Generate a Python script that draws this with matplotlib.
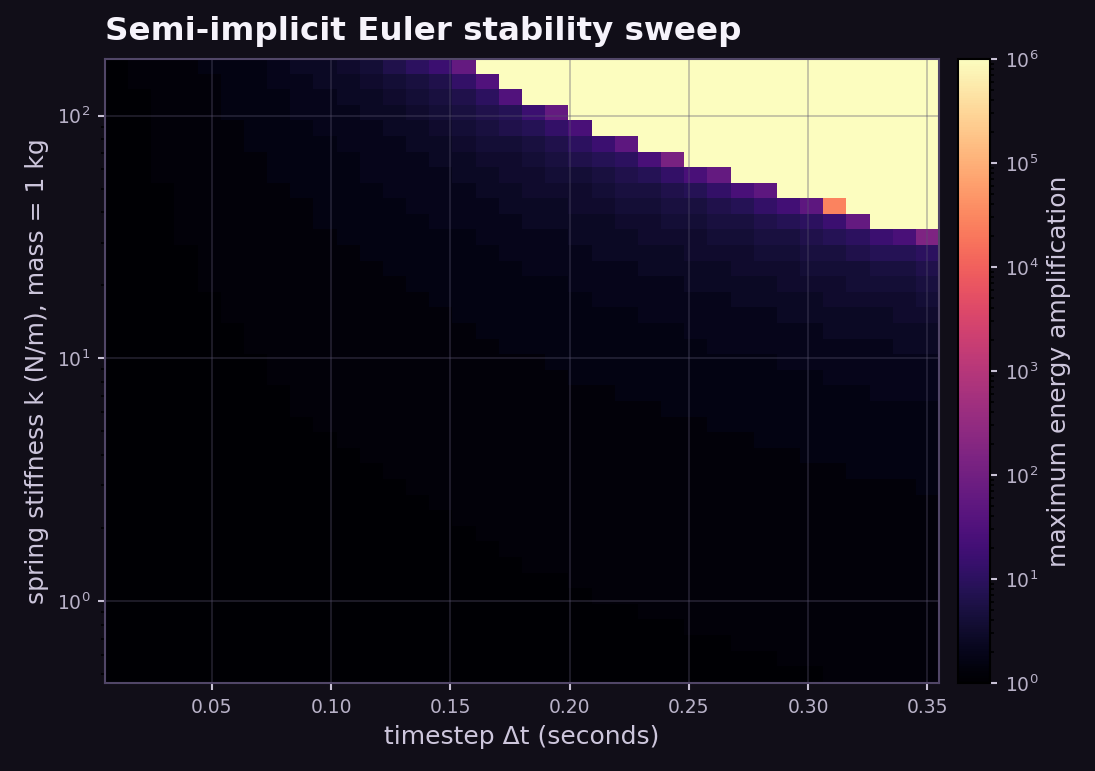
import numpy as np
import matplotlib
matplotlib.use("Agg")
import matplotlib.pyplot as plt
from matplotlib.colors import LogNorm

# timestep values (columns) and spring stiffness values (rows)
dt = [0.0100, 0.0197, 0.0294, 0.0391, 0.0489, 0.0586, 0.0683, 0.0780, 0.0877,
      0.0974, 0.1071, 0.1169, 0.1266, 0.1363, 0.1460, 0.1557, 0.1654, 0.1751,
      0.1849, 0.1946, 0.2043, 0.2140, 0.2237, 0.2334, 0.2431, 0.2529, 0.2626,
      0.2723, 0.2820, 0.2917, 0.3014, 0.3111, 0.3209, 0.3306, 0.3403, 0.3500]
k = [0.500, 0.580, 0.672, 0.779, 0.903, 1.047, 1.214, 1.408, 1.632, 1.893,
     2.194, 2.544, 2.950, 3.420, 3.965, 4.597, 5.331, 6.180, 7.166, 8.309,
     9.632, 11.17, 12.95, 15.01, 17.40, 20.18, 23.39, 27.13, 31.45, 36.47,
     42.28, 49.02, 56.83, 65.90, 76.38, 88.57, 102.7, 119.1, 138.0, 160.0]

# amplification, one string per k row (top row first)
# char = log10(amplification)*10 in base 36, '*' ~ 10^4.45, '#' = clipped at 1e6
rows_top_down = [
    "011122" "234456" "8aci##" "######" "######" "######",
    "011112" "233445" "678bf#" "######" "######" "######",
    "001112" "223344" "5678af" "######" "######" "######",
    "001112" "223334" "456789" "ci####" "######" "######",
    "001111" "222333" "445678" "9be###" "######" "######",
    "001111" "222233" "344566" "78ach#" "######" "######",
    "001111" "122223" "334455" "6789ae" "l#####" "######",
    "001111" "122223" "333445" "566789" "bei###" "######",
    "000111" "112222" "333344" "555677" "89beh#" "######",
    "000111" "111222" "233334" "445566" "7789bd" "h*####",
    "000111" "111222" "223333" "444455" "667789" "aci###",
    "000111" "111122" "222233" "334445" "556677" "89acem",
    "000011" "111112" "222223" "333444" "455566" "77899a",
    "000011" "111111" "222222" "333334" "444555" "666778",
    "000011" "111111" "122222" "223333" "344445" "556667",
    "000001" "111111" "112222" "222333" "333444" "455556",
    "000001" "111111" "111222" "222223" "333334" "444455",
    "000000" "111111" "111122" "222222" "233333" "344444",
    "000000" "111111" "111112" "222222" "223333" "333344",
    "000000" "011111" "111111" "122222" "222223" "333333",
    "000000" "011111" "111111" "112222" "222222" "233333",
    "000000" "001111" "111111" "111122" "222222" "222333",
    "000000" "001111" "111111" "111111" "222222" "222222",
    "000000" "000111" "111111" "111111" "112222" "222222",
    "000000" "000011" "111111" "111111" "111122" "222222",
    "000000" "000001" "111111" "111111" "111111" "222222",
    "000000" "000000" "111111" "111111" "111111" "112222",
    "000000" "000000" "011111" "111111" "111111" "111112",
    "000000" "000000" "001111" "111111" "111111" "111111",
    "000000" "000000" "000111" "111111" "111111" "111111",
    "000000" "000000" "000011" "111111" "111111" "111111",
    "000000" "000000" "000001" "111111" "111111" "111111",
    "000000" "000000" "000000" "111111" "111111" "111111",
    "000000" "000000" "000000" "001111" "111111" "111111",
    "000000" "000000" "000000" "000111" "111111" "111111",
    "000000" "000000" "000000" "000001" "111111" "111111",
    "000000" "000000" "000000" "000000" "011111" "111111",
    "000000" "000000" "000000" "000000" "000111" "111111",
    "000000" "000000" "000000" "000000" "000001" "111111",
    "000000" "000000" "000000" "000000" "000000" "011111",
]


def level(c):
    if c == "#":
        return 6.0
    if c == "*":
        return 4.45
    return int(c, 36) / 10.0


amp = np.array([[10 ** level(c) for c in row] for row in rows_top_down[::-1]])

bg = "#110e18"
fig = plt.figure(figsize=(7.3, 5.14), dpi=150, facecolor=bg)
ax = fig.add_axes([0.0959, 0.1141, 0.7616, 0.8093])
cax = fig.add_axes([0.8749, 0.1141, 0.0292, 0.8093])

mesh = ax.pcolormesh(dt, k, amp, cmap="magma", norm=LogNorm(1, 1e6),
                     shading="nearest")
ax.set_yscale("log")
ax.set_facecolor(bg)
ax.grid(True, which="major", color="#5a5470", alpha=0.34, lw=0.9)

ax.set_title("Semi-implicit Euler stability sweep", loc="left", fontsize=15.6,
             fontweight="bold", color="#f6f3fb", pad=9)
ax.set_xlabel("timestep Δt (seconds)", fontsize=12, color="#cdc6dc")
ax.set_ylabel("spring stiffness k (N/m), mass = 1 kg", fontsize=12,
              color="#cdc6dc")

for s in ax.spines.values():
    s.set_color("#514667")
    s.set_linewidth(1.0)

cb = fig.colorbar(mesh, cax=cax)
cb.outline.set_edgecolor("black")
cb.outline.set_linewidth(1.0)
cb.set_label("maximum energy amplification", fontsize=12, color="#cdc6dc")

for a in (ax, cax):
    a.tick_params(which="major", colors="#c9c2d6", labelcolor="#b8b1c7",
                  labelsize=9, length=3.5, width=1)
    a.tick_params(which="minor", colors="black", length=2, width=0.8)

fig.savefig("out.png", dpi=150, facecolor=bg)
